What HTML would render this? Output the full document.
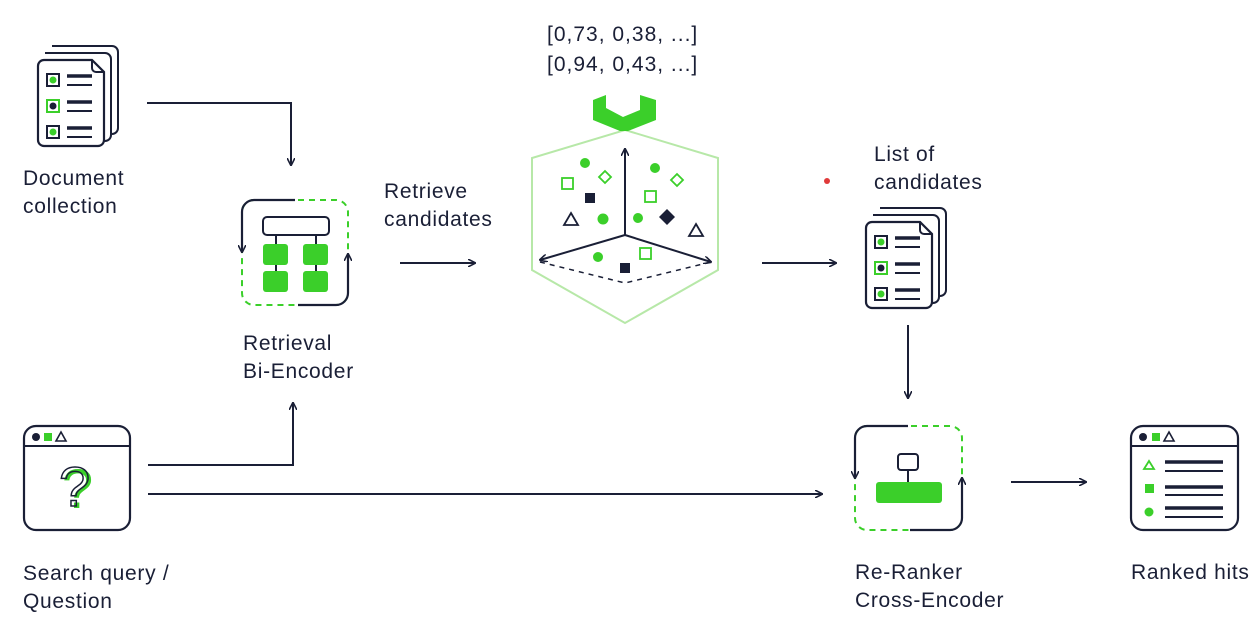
<!DOCTYPE html>
<html><head><meta charset="utf-8"><style>
html,body{margin:0;padding:0;background:#fff;}
svg{display:block}
text{font-family:"Liberation Sans",sans-serif;fill:#1a1f36;font-size:21px;letter-spacing:0.7px}
</style></head><body>
<svg width="1259" height="638" viewBox="0 0 1259 638" xmlns="http://www.w3.org/2000/svg">
<defs>
<marker id="ah" viewBox="0 0 10 10" refX="9" refY="5" markerWidth="8" markerHeight="8" orient="auto-start-reverse" markerUnits="userSpaceOnUse">
<path d="M0,0 L10,5 L0,10" fill="none" stroke="#1a1f36" stroke-width="2"/></marker>
<g id="doc">
<path d="M14,-14 h60 a6,6 0 0 1 6,6 v76 a6,6 0 0 1 -6,6 h-6" fill="#fff" stroke="#1a1f36" stroke-width="2"/>
<path d="M7,-7 h60 a6,6 0 0 1 6,6 v76 a6,6 0 0 1 -6,6 h-60" fill="#fff" stroke="#1a1f36" stroke-width="2"/>
<path d="M6,0 h48 l12,12 v68 a6,6 0 0 1 -6,6 h-54 a6,6 0 0 1 -6,-6 v-74 a6,6 0 0 1 6,-6z" fill="#fff" stroke="#1a1f36" stroke-width="2.2"/>
<path d="M54,0 v8 a4,4 0 0 0 4,4 h8" fill="none" stroke="#1a1f36" stroke-width="2"/>
<rect x="9" y="14" width="12" height="12" fill="none" stroke="#1a1f36" stroke-width="2"/><circle cx="15" cy="20" r="3.5" fill="#3bcf2a"/>
<rect x="9" y="40" width="12" height="12" fill="none" stroke="#3bcf2a" stroke-width="2"/><circle cx="15" cy="46" r="3.5" fill="#1a1f36"/>
<rect x="9" y="66" width="12" height="12" fill="none" stroke="#1a1f36" stroke-width="2"/><circle cx="15" cy="72" r="3.5" fill="#3bcf2a"/>
<path d="M29,25 h25 M29,51 h25 M29,77 h25" stroke="#1a1f36" stroke-width="2"/>
<path d="M29,16 h25 M29,42 h25 M29,68 h25" stroke="#1a1f36" stroke-width="3.5"/>
</g>
</defs>

<use href="#doc" x="38" y="60"/>
<text x="23" y="185">Document</text><text x="23" y="213">collection</text>
<path d="M147,103 H291 V165" fill="none" stroke="#1a1f36" stroke-width="2" marker-end="url(#ah)"/>

<rect x="242" y="200" width="106" height="105" rx="12" fill="none" stroke="#3bcf2a" stroke-width="2" stroke-dasharray="6,5"/>
<path d="M295,200 H254 a12,12 0 0 0 -12,12 V252" fill="none" stroke="#1a1f36" stroke-width="2.2" marker-end="url(#ah)"/>
<path d="M298,305 H336 a12,12 0 0 0 12,-12 V254" fill="none" stroke="#1a1f36" stroke-width="2.2" marker-end="url(#ah)"/>
<rect x="263" y="217" width="66" height="18" rx="4" fill="#fff" stroke="#1a1f36" stroke-width="2"/>
<path d="M276,235 V280 M316,235 V280" stroke="#1a1f36" stroke-width="2"/>
<rect x="263" y="244" width="25" height="21" rx="3" fill="#3bcf2a"/>
<rect x="303" y="244" width="25" height="21" rx="3" fill="#3bcf2a"/>
<rect x="263" y="271" width="25" height="21" rx="3" fill="#3bcf2a"/>
<rect x="303" y="271" width="25" height="21" rx="3" fill="#3bcf2a"/>
<text x="243" y="350">Retrieval</text><text x="243" y="378">Bi-Encoder</text>

<text x="384" y="198">Retrieve</text><text x="384" y="226">candidates</text>
<path d="M400,263 H475" stroke="#1a1f36" stroke-width="2" marker-end="url(#ah)"/>

<text x="547" y="41" style="letter-spacing:1px">[0,73, 0,38, ...]</text>
<text x="547" y="71" style="letter-spacing:1px">[0,94, 0,43, ...]</text>
<polygon points="625,130 718,158 718,270 625,323 532,270 532,158" fill="none" stroke="#b7e8a8" stroke-width="2"/>
<path d="M593,100 L606,95 L606,108 L623,117 L640,110 L640,95 L656,100 L656,120 L628,131 L620,131 L593,120Z" fill="#3bcf2a"/>
<path d="M625,235 V149" stroke="#1a1f36" stroke-width="2" marker-end="url(#ah)"/>
<path d="M625,235 L540,260" stroke="#1a1f36" stroke-width="2" marker-end="url(#ah)"/>
<path d="M625,235 L711,262" stroke="#1a1f36" stroke-width="2" marker-end="url(#ah)"/>
<path d="M540,262 L625,283 L711,262" fill="none" stroke="#1a1f36" stroke-width="1.5" stroke-dasharray="5,5"/>
<g fill="#3bcf2a"><circle cx="585" cy="163" r="5"/><circle cx="603" cy="219" r="5.5"/><circle cx="655" cy="168" r="5"/><circle cx="638" cy="218" r="5"/><circle cx="598" cy="257" r="5"/></g>
<g fill="none" stroke="#3bcf2a" stroke-width="1.8"><rect x="562" y="178" width="11" height="11"/><rect x="645" y="191" width="11" height="11"/><rect x="640" y="248" width="11" height="11"/>
<path d="M605,171 l6,6 -6,6 -6,-6z M677,174 l6,6 -6,6 -6,-6z"/></g>
<g fill="#1a1f36"><rect x="585" y="193" width="10" height="10"/><rect x="620" y="263" width="10" height="10"/><path d="M667,209 l8,8 -8,8 -8,-8z"/></g>
<g fill="none" stroke="#1a1f36" stroke-width="1.8"><path d="M571,213 l7,12 h-14z M696,224 l7,12 h-14z"/></g>
<path d="M762,263 H836" stroke="#1a1f36" stroke-width="2" marker-end="url(#ah)"/>
<circle cx="827" cy="181" r="3" fill="#e03a3a"/>

<text x="874" y="161">List of</text><text x="874" y="189">candidates</text>
<use href="#doc" x="866" y="222"/>
<path d="M908,325 V398" stroke="#1a1f36" stroke-width="2" marker-end="url(#ah)"/>

<rect x="24" y="426" width="106" height="104" rx="12" fill="#fff" stroke="#1a1f36" stroke-width="2.2"/>
<path d="M24,446 H130" stroke="#1a1f36" stroke-width="2"/>
<circle cx="36" cy="437" r="4" fill="#1a1f36"/><rect x="44" y="433" width="8" height="8" fill="#3bcf2a"/>
<path d="M61,432 l5,9 h-10z" fill="none" stroke="#1a1f36" stroke-width="1.6"/>
<text x="62" y="508" style="font-size:56px;fill:#3bcf2a;letter-spacing:0">?</text>
<text x="59" y="506" style="font-size:56px;fill:none;stroke:#1a1f36;stroke-width:1.5;letter-spacing:0">?</text>
<text x="23" y="580">Search query /</text><text x="23" y="608">Question</text>
<path d="M148,465 H293 V403" fill="none" stroke="#1a1f36" stroke-width="2" marker-end="url(#ah)"/>
<path d="M148,494 H822" stroke="#1a1f36" stroke-width="2" marker-end="url(#ah)"/>

<rect x="855" y="426" width="107" height="104" rx="12" fill="none" stroke="#3bcf2a" stroke-width="2" stroke-dasharray="6,5"/>
<path d="M908,426 H867 a12,12 0 0 0 -12,12 V478" fill="none" stroke="#1a1f36" stroke-width="2.2" marker-end="url(#ah)"/>
<path d="M910,530 H950 a12,12 0 0 0 12,-12 V478" fill="none" stroke="#1a1f36" stroke-width="2.2" marker-end="url(#ah)"/>
<rect x="898" y="454" width="20" height="16" rx="3" fill="#fff" stroke="#1a1f36" stroke-width="2"/>
<path d="M908,470 V483" stroke="#1a1f36" stroke-width="2"/>
<rect x="876" y="482" width="66" height="21" rx="3" fill="#3bcf2a"/>
<text x="855" y="579">Re-Ranker</text><text x="855" y="607">Cross-Encoder</text>
<path d="M1011,482 H1086" stroke="#1a1f36" stroke-width="2" marker-end="url(#ah)"/>

<rect x="1131" y="426" width="107" height="104" rx="12" fill="#fff" stroke="#1a1f36" stroke-width="2.2"/>
<path d="M1131,446 H1238" stroke="#1a1f36" stroke-width="2"/>
<circle cx="1143" cy="437" r="4" fill="#1a1f36"/><rect x="1152" y="433" width="8" height="8" fill="#3bcf2a"/>
<path d="M1169,432 l5,9 h-10z" fill="none" stroke="#1a1f36" stroke-width="1.6"/>
<path d="M1149,461 l5,8 h-10z" fill="none" stroke="#3bcf2a" stroke-width="1.8"/>
<rect x="1145" y="484" width="9" height="9" fill="#3bcf2a"/>
<circle cx="1149" cy="512" r="4.5" fill="#3bcf2a"/>
<path d="M1165,462 h58 M1165,487 h58 M1165,508 h58" stroke="#1a1f36" stroke-width="3.5"/>
<path d="M1165,471 h58 M1165,495 h58 M1165,517 h58" stroke="#1a1f36" stroke-width="2"/>
<text x="1131" y="579">Ranked hits</text>
</svg>
</body></html>
